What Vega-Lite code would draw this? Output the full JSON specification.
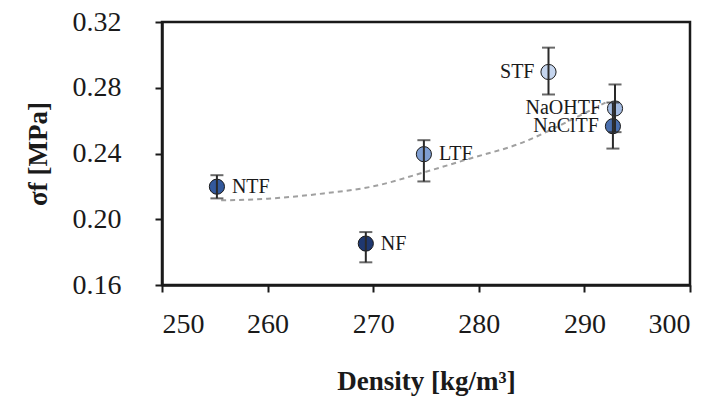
{
  "$schema": "https://vega.github.io/schema/vega-lite/v6.json",
  "width": 528,
  "height": 263,
  "autosize": "none",
  "padding": {"left": 162, "top": 22, "right": 22, "bottom": 119},
  "background": "white",
  "config": {
    "view": {"stroke": "#1a1a1a", "strokeWidth": 2.5},
    "font": "'Liberation Serif', 'DejaVu Serif', serif",
    "axis": {
      "grid": false,
      "domainColor": "#1a1a1a",
      "domainWidth": 2.5,
      "tickColor": "#1a1a1a",
      "tickWidth": 2,
      "tickSize": 7,
      "labelFont": "'Liberation Serif', 'DejaVu Serif', serif",
      "labelFontSize": 28,
      "labelColor": "#1a1a1a",
      "titleFont": "'Liberation Serif', 'DejaVu Serif', serif",
      "titleFontSize": 27,
      "titleFontWeight": "bold",
      "titleColor": "#1a1a1a"
    }
  },
  "datasets": {
    "pts": [
      {"name": "NTF", "density": 255.2, "sigma": 0.2198, "lo": 0.2127, "hi": 0.2268},
      {"name": "NF", "density": 269.3, "sigma": 0.1852, "lo": 0.1738, "hi": 0.1922},
      {"name": "LTF", "density": 274.8, "sigma": 0.2396, "lo": 0.2230, "hi": 0.2481},
      {"name": "STF", "density": 286.6, "sigma": 0.2896, "lo": 0.2759, "hi": 0.3044},
      {"name": "NaOHTF", "density": 292.9, "sigma": 0.2674, "lo": 0.2530, "hi": 0.2820},
      {"name": "NaClTF", "density": 292.7, "sigma": 0.2566, "lo": 0.2430, "hi": 0.2710}
    ],
    "trend": [
      {"density": 255.6, "sigma": 0.2115},
      {"density": 260.0, "sigma": 0.2125},
      {"density": 265.3, "sigma": 0.2157},
      {"density": 270.0, "sigma": 0.2200},
      {"density": 275.0, "sigma": 0.2289},
      {"density": 279.2, "sigma": 0.2370},
      {"density": 283.9, "sigma": 0.2461},
      {"density": 288.6, "sigma": 0.2600},
      {"density": 292.0, "sigma": 0.2710}
    ]
  },
  "layer": [
    {
      "data": {"name": "trend"},
      "mark": {"type": "line", "interpolate": "monotone", "color": "#a0a0a0", "strokeWidth": 2, "strokeDash": [5, 4]},
      "encoding": {
        "x": {"field": "density", "type": "quantitative", "scale": {"domain": [250, 300], "nice": false},
          "axis": {"values": [250, 260, 270, 280, 290, 300], "labelPadding": 18, "title": "Density [kg/m³]", "titlePadding": 30}},
        "y": {"field": "sigma", "type": "quantitative", "scale": {"domain": [0.16, 0.32], "nice": false, "zero": false},
          "axis": {"values": [0.16, 0.2, 0.24, 0.28, 0.32], "format": ".2f", "labelPadding": 34, "title": "σf [MPa]", "titlePadding": 20}}
      }
    },
    {
      "data": {"name": "pts"},
      "mark": {"type": "point", "filled": true, "size": 230, "stroke": "#1a1a1a", "strokeWidth": 1, "opacity": 1},
      "encoding": {
        "x": {"field": "density", "type": "quantitative"},
        "y": {"field": "sigma", "type": "quantitative"},
        "fill": {"field": "name", "type": "nominal", "legend": null,
          "scale": {"domain": ["NTF", "NF", "LTF", "STF", "NaOHTF", "NaClTF"],
                    "range": ["#33599c", "#1f3870", "#7f9ed2", "#c5d5ee", "#a3bbe2", "#4a6fae"]}}
      }
    },
    {
      "data": {"name": "pts"},
      "mark": {"type": "rule", "color": "#2a2a2a", "strokeWidth": 2},
      "encoding": {
        "x": {"field": "density", "type": "quantitative"},
        "y": {"field": "lo", "type": "quantitative"},
        "y2": {"field": "hi"}
      }
    },
    {
      "data": {"name": "pts"},
      "mark": {"type": "tick", "orient": "horizontal", "color": "#2a2a2a", "thickness": 2, "size": 13},
      "encoding": {
        "x": {"field": "density", "type": "quantitative"},
        "y": {"field": "lo", "type": "quantitative"}
      }
    },
    {
      "data": {"name": "pts"},
      "mark": {"type": "tick", "orient": "horizontal", "color": "#2a2a2a", "thickness": 2, "size": 13},
      "encoding": {
        "x": {"field": "density", "type": "quantitative"},
        "y": {"field": "hi", "type": "quantitative"}
      }
    },
    {
      "data": {"name": "pts"},
      "transform": [{"filter": "indexof(['NTF','NF','LTF'], datum.name) >= 0"}],
      "mark": {"type": "text", "align": "left", "baseline": "middle", "dx": 15, "font": "'Liberation Serif', 'DejaVu Serif', serif", "fontSize": 20, "color": "#1a1a1a"},
      "encoding": {
        "x": {"field": "density", "type": "quantitative"},
        "y": {"field": "sigma", "type": "quantitative"},
        "text": {"field": "name"}
      }
    },
    {
      "data": {"name": "pts"},
      "transform": [{"filter": "indexof(['STF','NaOHTF','NaClTF'], datum.name) >= 0"}],
      "mark": {"type": "text", "align": "right", "baseline": "middle", "dx": -14, "font": "'Liberation Serif', 'DejaVu Serif', serif", "fontSize": 20, "color": "#1a1a1a"},
      "encoding": {
        "x": {"field": "density", "type": "quantitative"},
        "y": {"field": "sigma", "type": "quantitative"},
        "text": {"field": "name"}
      }
    }
  ]
}
